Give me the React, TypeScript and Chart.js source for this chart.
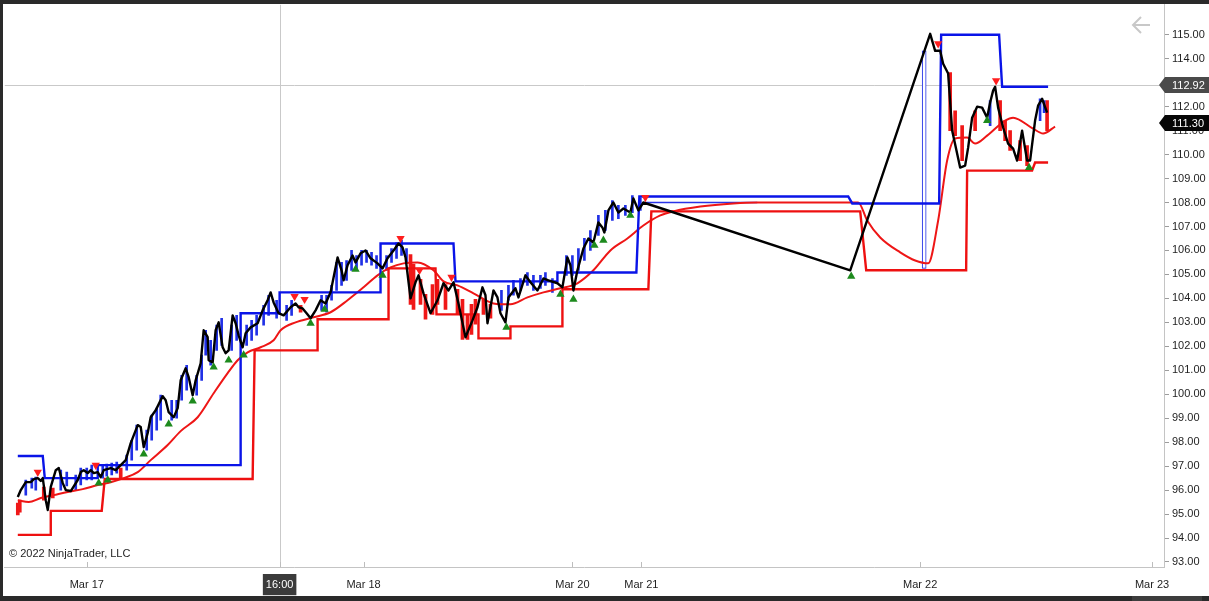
import { useEffect, useRef } from 'react';
import { Chart, registerables } from 'chart.js';

Chart.register(...registerables);

// bar-slot axis (weekends/gaps compressed like the platform does)
const timeTicks = [41, 137.5, 179.5, 284, 318.5, 458, 574];
const timeLabels = ['Mar 17', '16:00', 'Mar 18', 'Mar 20', 'Mar 21', 'Mar 22', 'Mar 23'];
const priceTicks = [93, 94, 95, 96, 97, 98, 99, 100, 101, 102, 103, 104, 105, 106, 107, 108, 109, 110, 111, 112, 113, 114, 115];

const crossTime = 137.5;
const crossPrice = 112.92;
const lastPrice = 111.3;

// swing (zig-zag) line
const swing: [number, number][] = [
  [6.5, 95.71], [8, 96.0], [10.5, 96.33], [13, 96.33], [14.5, 96.46], [16.5, 96.5], [18, 96.38], [19, 96.5],
  [20.5, 95.58], [21.5, 95.17], [23, 96.13], [25.5, 96.83], [27, 96.92], [29, 96.29], [30.5, 96.0], [33, 95.96],
  [36.5, 96.42], [38, 96.75], [39.5, 96.83], [41.5, 96.71], [43, 96.83], [44.5, 96.71], [46.5, 96.75], [48, 96.54],
  [49.5, 96.83], [53, 96.92], [55.5, 96.83], [58, 97.04], [60.5, 97.25], [63, 97.96], [66.5, 98.71], [68, 98.63],
  [69.5, 97.79], [71.5, 98.38], [73, 99.04], [75.5, 99.33], [79, 99.92], [80.5, 99.75], [82, 99.25], [84.5, 99.04],
  [86.5, 99.42], [88, 100.58], [90.5, 101.08], [92, 100.71], [94, 99.96], [95.5, 100.58], [98, 101.29], [99.5, 102.67],
  [101.5, 102.38], [102, 101.42], [104, 101.33], [105.5, 102.67], [107, 103.0], [109, 101.96], [110.5, 101.71], [112, 101.83],
  [114, 103.29], [115.5, 102.96], [117, 102.46], [119, 101.96], [120.5, 102.54], [123, 102.79], [126.5, 102.96], [129, 103.5],
  [131.5, 103.92], [133, 104.25], [134.5, 103.83], [137, 103.38], [139.5, 103.29], [143, 103.63], [145.5, 103.79], [147, 103.63],
  [149, 103.58], [151, 103.38], [153, 103.17], [155.5, 103.5], [158, 103.92], [160.5, 103.79], [163, 104.25], [165.5, 105.29],
  [166.5, 105.71], [168.5, 105.17], [169.5, 104.75], [171.5, 105.38], [174, 105.79], [175.5, 105.5], [178, 105.88], [180.5, 106.0],
  [183, 105.67], [186.5, 105.46], [189, 105.25], [191.5, 105.67], [194.5, 106.0], [197, 106.29], [199, 106.13], [200.5, 105.71],
  [203, 104.0], [205.5, 104.67], [207, 104.96], [209.5, 104.21], [213, 103.38], [216.5, 103.92], [219.5, 104.63], [222, 104.33],
  [224.5, 104.67], [227, 103.79], [230.5, 102.38], [234, 103.08], [236.5, 103.63], [239, 104.46], [240.5, 104.13], [241.5, 102.96],
  [244.5, 104.33], [246.5, 104.04], [248, 103.38], [250.5, 103.0], [252, 104.04], [255.5, 104.42], [257, 104.04], [260.5, 104.96],
  [263, 104.67], [266.5, 104.33], [269.5, 104.83], [272, 104.75], [276.5, 104.63], [279, 104.46], [281.5, 105.71], [283, 105.38],
  [284.5, 104.33], [286.5, 105.17], [289.5, 106.08], [292, 106.5], [294.5, 106.33], [297, 107.17], [299, 106.96], [300, 106.75],
  [302, 107.67], [304.5, 108.0], [307, 107.58], [309.5, 107.75], [313, 107.58], [314.5, 108.17], [317, 107.67], [319.5, 108.0],
  [423, 105.17], [463, 115.04], [465.5, 114.33], [468, 114.33], [469.5, 113.79], [472, 113.38], [474, 111.0], [478, 109.46],
  [480.5, 109.54], [482, 110.29], [484, 111.54], [486.5, 112.0], [489, 111.96], [491.5, 111.54], [493, 112.17], [494.5, 112.67],
  [495.5, 112.83], [497, 111.96], [499.5, 111.13], [502, 110.46], [504.5, 110.25], [506.5, 109.75], [509, 111.0], [511.5, 109.75],
  [513, 109.75], [515.5, 111.42], [517, 112.04], [519, 112.33], [521.5, 111.75],
];

// upper channel (step)
const upper: [number, number][] = [
  [6.5, 97.42], [19, 97.42], [20, 96.5], [46.5, 96.5], [46.5, 97.04], [118, 97.04], [118, 103.38], [137.5, 103.38],
  [137.5, 104.25], [188, 104.25], [188, 106.29], [224.5, 106.29], [225.5, 104.71], [276.5, 104.71], [276.5, 105.08], [316, 105.08],
  [317.5, 108.25], [422, 108.25], [424, 107.96], [467.5, 107.96], [468.5, 115.0], [497.5, 115.0], [499, 112.83], [522, 112.83],
];
const upperMid: [number, number][] = [[320.5, 108.0], [376.5, 108.0]];

// lower channel (step)
const lower: [number, number][] = [
  [6.5, 94.13], [23, 94.13], [23, 95.13], [48.5, 95.13], [50, 96.46], [124, 96.46], [125, 101.83], [156.5, 101.83],
  [156.5, 103.13], [192, 103.13], [192, 105.25], [215.5, 105.25], [216, 103.33], [237, 103.33], [237, 102.33], [253, 102.33],
  [253, 102.83], [279, 102.83], [279, 104.38], [322, 104.38], [323.5, 107.63], [428, 107.63], [431, 105.17], [481, 105.17],
  [481.5, 109.33], [514, 109.33], [515.5, 109.67], [522, 109.67],
];

// moving average
const avg: [number, number][] = [
  [6.5, 95.58], [12, 95.5], [18, 95.67], [24.5, 95.79], [31.5, 95.92], [39, 96.04], [46.5, 96.21], [53, 96.33],
  [59.5, 96.5], [66.5, 96.75], [73, 97.25], [81.5, 97.88], [88, 98.46], [96.5, 99.04], [104.5, 100.04], [111.5, 100.88],
  [116.5, 101.42], [121.5, 101.75], [128, 101.96], [134.5, 102.25], [138, 102.67], [145.5, 103.0], [154.5, 103.21], [163, 103.42],
  [171.5, 103.92], [179.5, 104.46], [186.5, 104.96], [193, 105.29], [199.5, 105.46], [206.5, 105.5], [214.5, 105.17], [219.5, 104.71],
  [226.5, 104.54], [234.5, 104.21], [244.5, 103.79], [253, 103.75], [261.5, 104.04], [269.5, 104.25], [278, 104.42], [286.5, 104.63],
  [294.5, 105.17], [303, 106.0], [311.5, 106.5], [319.5, 107.04], [328, 107.46], [334.5, 107.63], [348, 107.83], [364.5, 107.96],
  [376.5, 108.0], [398, 108.0], [427, 108.0], [431.5, 107.25], [438, 106.54], [448, 105.92], [455.5, 105.58], [462, 105.46],
  [467, 107.25], [471.5, 109.75], [475.5, 110.67], [481.5, 110.71], [485.5, 110.46], [491.5, 110.79], [500.5, 111.42], [504.5, 111.54],
  [514.5, 111.08], [519.5, 110.88], [525.5, 111.17],
];

// swing markers
const swingLows: [number, number][] = [
  [47, 96.29], [51.5, 96.42], [69.5, 97.5], [82, 98.75], [94, 99.71], [104.5, 101.13], [112, 101.42], [119.5, 101.63],
  [153, 102.96], [160, 103.54], [175.5, 105.21], [189, 104.96], [251, 102.79], [278, 104.17], [284.5, 103.96], [295, 106.21],
  [299.5, 106.42], [313, 107.46], [423.5, 104.92], [491.5, 111.42], [512.5, 109.46],
];
const swingHighs: [number, number][] = [
  [16.5, 96.75], [45.5, 97.04], [145, 104.08], [150, 103.96], [198, 106.5], [207.5, 105.17], [223.5, 104.88], [320.5, 108.21],
  [467, 114.63], [496, 113.08],
];

// candles: [slot, low, high]
const upCandles: [number, number, number][] = [
  [10.5, 95.79, 96.42], [13.5, 96.08, 96.5], [15.5, 96.0, 96.54], [28, 96.0, 96.83], [31, 96.17, 96.75], [35.5, 96.0, 96.63],
  [38, 96.21, 96.92], [41, 96.42, 96.92], [43.5, 96.42, 97.04], [49, 96.5, 97.04], [51, 96.58, 97.08], [53.5, 96.63, 97.13],
  [56, 96.71, 97.17], [61, 96.83, 97.46], [63.5, 97.25, 98.08], [66, 97.67, 98.71], [71, 97.67, 98.5], [73.5, 98.08, 99.13],
  [76, 98.5, 99.42], [78, 98.92, 99.96], [83.5, 98.92, 99.75], [86, 99.0, 99.75], [88.5, 99.75, 100.79], [91, 100.17, 101.21],
  [96, 99.96, 100.79], [98.5, 100.58, 101.63], [100.5, 101.63, 102.67], [103, 101.21, 102.25], [106, 101.83, 102.88], [108.5, 102.04, 103.17],
  [113.5, 101.83, 102.88], [116, 102.25, 103.29], [121, 102.04, 102.88], [123.5, 102.25, 103.08], [126, 102.46, 103.29], [129.5, 102.88, 103.71],
  [132, 103.29, 104.13], [136, 103.17, 103.92], [141, 103.08, 103.71], [143.5, 103.29, 103.92], [158.5, 103.5, 104.13], [161, 103.42, 104.13],
  [163.5, 103.92, 104.54], [166, 104.33, 105.5], [168.5, 104.54, 105.5], [171, 104.75, 105.58], [173.5, 105.17, 106.0], [176, 105.17, 105.79],
  [178.5, 105.38, 106.0], [181, 105.5, 106.0], [183.5, 105.38, 105.92], [186, 105.25, 105.79], [191, 105.17, 105.79], [193.5, 105.5, 106.08],
  [196, 105.67, 106.33], [198.5, 105.79, 106.42], [201, 105.5, 106.08], [248.5, 103.5, 104.33], [252, 103.92, 104.54], [254.5, 104.13, 104.75],
  [258, 104.33, 104.83], [261.5, 104.54, 105.08], [264.5, 104.33, 104.96], [268, 104.42, 104.96], [270.5, 104.54, 105.08], [274, 104.25, 104.83],
  [281, 104.96, 105.79], [284, 104.96, 105.79], [287, 105.17, 106.08], [290, 105.58, 106.5], [293, 106.0, 106.83], [297, 106.63, 107.46],
  [300.5, 106.83, 107.67], [304, 107.25, 108.08], [307, 107.33, 107.88], [310.5, 107.46, 107.88], [314, 107.58, 108.29], [318, 107.67, 108.17],
  [493, 111.21, 112.25], [518, 111.42, 112.33], [520, 111.75, 112.25],
];
const gapCandle: [number, number, number][] = [[460, 105.25, 114.33]];
const downCandles: [number, number, number][] = [
  [6.5, 94.96, 95.46], [7.5, 95.08, 95.58], [19.5, 95.58, 96.13], [24, 95.67, 96.08], [58, 96.5, 96.92], [148, 103.42, 103.71],
  [203, 103.75, 105.83], [204.5, 103.54, 105.42], [208, 103.75, 104.79], [210.5, 103.13, 104.17], [214, 103.33, 104.58], [216.5, 103.75, 104.79],
  [220.5, 103.54, 104.58], [226.5, 103.33, 104.38], [229, 102.29, 103.96], [231.5, 102.29, 103.33], [233.5, 102.5, 103.75], [235.5, 102.92, 103.96],
  [239.5, 103.33, 103.96], [243, 103.17, 103.75], [473, 111.0, 113.42], [475.5, 110.79, 111.83], [479, 109.75, 111.21], [485.5, 111.0, 111.83],
  [498, 111.0, 112.25], [500.5, 110.58, 111.42], [503, 110.17, 111.0], [508, 109.75, 110.58], [511.5, 109.54, 110.38], [521.5, 111.0, 112.25],
];

const FONT = { family: '"Liberation Sans", Arial, sans-serif', size: 11 };
const pts = (arr: [number, number][]) => arr.map(([x, y]) => ({ x, y }));
const bars = (arr: [number, number, number][]) => arr.map(([x, lo, hi]) => ({ x, y: [lo, hi] }));

const ninjaFrame = {
  id: 'ninjaFrame',
  beforeDraw(chart: any) {
    const { ctx, width, height } = chart;
    ctx.save();
    ctx.fillStyle = '#ffffff';
    ctx.fillRect(0, 0, width, height);
    ctx.restore();
  },
  beforeDatasetsDraw(chart: any) {
    const { ctx, chartArea: a, scales } = chart;
    const cx = Math.round(scales.x.getPixelForValue(crossTime)) + 0.5;
    const cy = Math.round(scales.y.getPixelForValue(crossPrice)) + 0.5;
    ctx.save();
    ctx.strokeStyle = '#c9c9c9';
    ctx.lineWidth = 1;
    ctx.beginPath();
    ctx.moveTo(cx, a.top);
    ctx.lineTo(cx, a.bottom);
    ctx.moveTo(a.left, cy);
    ctx.lineTo(a.right, cy);
    ctx.stroke();
    // small inner ticks on the time axis
    ctx.strokeStyle = '#bdbdbd';
    ctx.beginPath();
    timeTicks.forEach((t) => {
      const px = Math.round(scales.x.getPixelForValue(t)) + 0.5;
      ctx.moveTo(px, a.bottom);
      ctx.lineTo(px, a.bottom - 5);
    });
    ctx.stroke();
    ctx.restore();
  },
  afterDraw(chart: any) {
    const { ctx, chartArea: a, scales, width, height } = chart;
    ctx.save();
    ctx.font = `${FONT.size}px ${FONT.family}`;
    ctx.textBaseline = 'middle';
    ctx.textAlign = 'left';
    ctx.fillStyle = '#1e1e1e';
    ctx.fillText('© 2022 NinjaTrader, LLC', 9, 554);

    const tag = (value: number, bg: string) => {
      const y = Math.round(scales.y.getPixelForValue(value));
      const tip = a.right - 5;
      ctx.fillStyle = bg;
      ctx.beginPath();
      ctx.moveTo(tip, y);
      ctx.lineTo(tip + 6, y - 8);
      ctx.lineTo(width, y - 8);
      ctx.lineTo(width, y + 8);
      ctx.lineTo(tip + 6, y + 8);
      ctx.closePath();
      ctx.fill();
      ctx.fillStyle = '#ffffff';
      ctx.fillText(value.toFixed(2), a.right + 8, y + 0.5);
    };
    tag(crossPrice, '#4a4a4a');
    tag(lastPrice, '#060606');

    // back arrow
    ctx.strokeStyle = '#c8c8c8';
    ctx.lineWidth = 2;
    ctx.beginPath();
    ctx.moveTo(1150, 25);
    ctx.lineTo(1133, 25);
    ctx.moveTo(1141, 17);
    ctx.lineTo(1133, 25);
    ctx.lineTo(1141, 33);
    ctx.stroke();

    // window frame
    ctx.fillStyle = '#2a2a2a';
    ctx.fillRect(0, 0, width, 4);
    ctx.fillRect(0, 0, 3, height);
    ctx.fillRect(0, height - 5, width, 5);
    ctx.fillStyle = '#3d3d3d';
    ctx.fillRect(1132, height - 5, 70, 5);
    ctx.restore();
  },
};

export default function App() {
  const canvasRef = useRef<HTMLCanvasElement | null>(null);

  useEffect(() => {
    if (!canvasRef.current) return;
    const chart = new Chart(canvasRef.current, {
      type: 'line',
      data: {
        datasets: [
          {
            label: 'Swing low',
            data: pts(swingLows),
            showLine: false,
            pointStyle: 'triangle',
            pointRadius: 4.8,
            pointBackgroundColor: '#1d8a1d',
            pointBorderWidth: 0,
            order: 0,
          },
          {
            label: 'Swing high',
            data: pts(swingHighs),
            showLine: false,
            pointStyle: 'triangle',
            pointRotation: 180,
            pointRadius: 4.8,
            pointBackgroundColor: '#ff1e1e',
            pointBorderWidth: 0,
            order: 0,
          },
          {
            label: 'Swing',
            data: pts(swing),
            borderColor: '#000000',
            borderWidth: 2.4,
            pointRadius: 0,
            borderJoinStyle: 'round',
            order: 1,
          },
          {
            label: 'Upper',
            data: pts(upper),
            borderColor: '#0a14e8',
            borderWidth: 2.4,
            pointRadius: 0,
            order: 2,
          },
          {
            label: 'Upper mid',
            data: pts(upperMid),
            borderColor: '#2a34e8',
            borderWidth: 1.5,
            pointRadius: 0,
            order: 6,
          },
          {
            label: 'Lower',
            data: pts(lower),
            borderColor: '#ee1010',
            borderWidth: 2.4,
            pointRadius: 0,
            order: 3,
          },
          {
            label: 'Average',
            data: pts(avg),
            borderColor: '#ee1616',
            borderWidth: 2,
            pointRadius: 0,
            cubicInterpolationMode: 'monotone',
            order: 4,
          },
          {
            type: 'bar',
            label: 'Up',
            data: bars(upCandles) as any,
            backgroundColor: '#2030e6',
            barThickness: 2,
            grouped: false,
            borderWidth: 0,
            borderSkipped: false,
            order: 5,
          },
          {
            type: 'bar',
            label: 'Gap',
            data: bars(gapCandle) as any,
            backgroundColor: '#ffffff',
            borderColor: '#1c2ce6',
            borderWidth: 1,
            barThickness: 4,
            grouped: false,
            borderSkipped: false,
            order: 5,
          },
          {
            type: 'bar',
            label: 'Down',
            data: bars(downCandles) as any,
            backgroundColor: '#f01818',
            barThickness: 3,
            grouped: false,
            borderWidth: 0,
            borderSkipped: false,
            order: 5,
          },
        ] as any,
      },
      options: {
        animation: false,
        responsive: true,
        maintainAspectRatio: false,
        layout: { padding: { left: 4, top: 4, right: 0, bottom: 0 } },
        plugins: { legend: { display: false }, tooltip: { enabled: false } },
        elements: { line: { tension: 0 } },
        scales: {
          x: {
            type: 'linear',
            min: 0,
            max: 580,
            offset: false,
            grid: { display: false, drawTicks: false },
            border: { display: true, color: '#c4c4c4', width: 1 },
            afterBuildTicks: (s: any) => {
              s.ticks = timeTicks.map((value) => ({ value }));
            },
            afterFit: (s: any) => {
              s.height = 34;
              s.paddingLeft = 0;
              s.paddingRight = 0;
            },
            ticks: {
              autoSkip: false,
              maxRotation: 0,
              padding: 11,
              font: FONT,
              callback: (_v: any, i: number) => timeLabels[i],
              color: (c: any) => (timeLabels[c.index] === '16:00' ? '#ffffff' : '#1e1e1e'),
              showLabelBackdrop: (c: any) => timeLabels[c.index] === '16:00',
              backdropColor: '#3b3b3b',
              backdropPadding: { x: 3, y: 4 },
            } as any,
          },
          y: {
            type: 'linear',
            position: 'right',
            min: 92.79,
            max: 116.25,
            grid: { drawOnChartArea: false, drawTicks: true, tickLength: 5, color: '#9c9c9c' },
            border: { display: true, color: '#c4c4c4', width: 1 },
            afterBuildTicks: (s: any) => {
              s.ticks = priceTicks.map((value) => ({ value }));
            },
            afterFit: (s: any) => {
              s.width = 45;
              s.paddingTop = 0;
              s.paddingBottom = 0;
            },
            ticks: {
              padding: 3,
              font: FONT,
              color: '#1e1e1e',
              callback: (v: any) => Number(v).toFixed(2),
            },
          },
        },
      },
      plugins: [ninjaFrame],
    });

    return () => {
      chart.destroy();
    };
  }, []);

  return (
    <div style={{ position: 'fixed', left: 0, top: 0, width: '1209px', height: '601px' }}>
      <canvas ref={canvasRef} aria-label="Price chart with channel, moving average and swing points" />
    </div>
  );
}
